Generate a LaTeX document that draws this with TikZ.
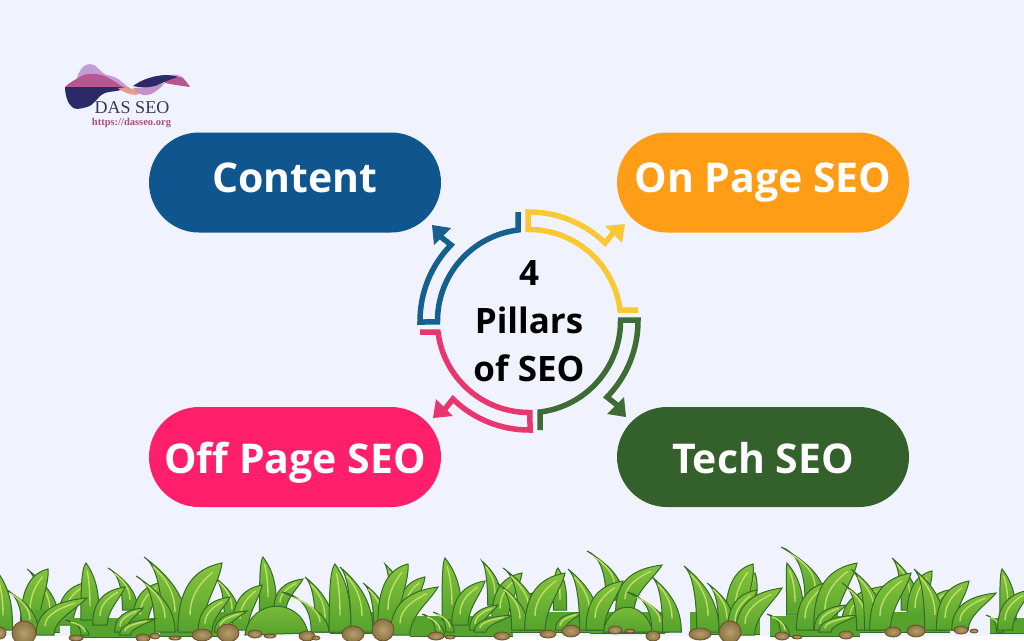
\documentclass[tikz,border=0pt]{standalone}
\usepackage{fontspec}
\setmainfont{Open Sans}
\newfontfamily\logofont{Liberation Serif}
\usetikzlibrary{shapes.misc}
\definecolor{pagebg}{HTML}{F0F3FE}
\definecolor{contentblue}{HTML}{0F568F}
\definecolor{onpageorange}{HTML}{FF9E16}
\definecolor{offpagepink}{HTML}{FF1F6B}
\definecolor{techgreen}{HTML}{33602B}
\definecolor{ringyellow}{HTML}{F9C935}
\definecolor{ringgreen}{HTML}{3F6B35}
\definecolor{ringpink}{HTML}{E8366F}
\definecolor{ringblue}{HTML}{15608F}
\definecolor{grassline}{HTML}{356A27}
\definecolor{grasstop}{HTML}{86C43C}
\definecolor{grassbottom}{HTML}{55A22C}
\definecolor{grasslight}{HTML}{BFDE68}
\definecolor{rockfill}{HTML}{8A7345}
\definecolor{rocklight}{HTML}{B8A06A}
\definecolor{rockline}{HTML}{6B4F2A}
\definecolor{logonavy}{HTML}{2B2A66}
\definecolor{logomauve}{HTML}{B8568F}
\definecolor{logolav}{HTML}{C49CD6}
\definecolor{logosalmon}{HTML}{E89A8A}
\definecolor{logotext}{HTML}{3A3550}
\definecolor{logolink}{HTML}{A8507F}
\tikzset{
  pillbox/.style={rounded rectangle,minimum width=292pt,minimum height=100pt,inner sep=0pt,
    text=white,font=\fontsize{41}{48}\selectfont\bfseries,text height=28pt,text depth=9pt},
  ringline/.style={line width=5.5pt},
  bladestyle/.style={draw=grassline,line width=1pt,top color=grasstop,bottom color=grassbottom},
  rockstyle/.style={draw=rockline,line width=.8pt,inner color=rocklight,outer color=rockfill}
}
\newcommand{\grassblade}[4]{%
  \pgfmathsetmacro{\bladedx}{#3-#1}%
  \pgfmathsetmacro{\bladeh}{#2-#4}%
  \pgfmathsetmacro{\bladew}{0.16*veclen(\bladedx,\bladeh)}%
  \draw[bladestyle] (#1-\bladew,#2) .. controls (#1-\bladew,#2-.65*\bladeh) and (#1+.4*\bladedx-.7*\bladew,#2-.92*\bladeh) .. (#3,#4)
    .. controls (#1+.5*\bladedx+1.1*\bladew,#2-.7*\bladeh) and (#1+\bladew,#2-.4*\bladeh) .. (#1+\bladew,#2) -- cycle;
  \draw[grasslight,line width=1.4pt,line cap=round] (#1,#2-.25*\bladeh) .. controls (#1,#2-.55*\bladeh) and (#1+.4*\bladedx,#2-.75*\bladeh) .. (#1+.7*\bladedx,#2-.86*\bladeh);
}
\begin{document}
\begin{tikzpicture}[x=1pt,y=-1pt]
  \useasboundingbox (0,0) rectangle (1024,640);
  \clip (0,0) rectangle (1024,640);
  \fill[pagebg] (0,0) rectangle (1024,640);
  \fill[white] (0,636) rectangle (1024,640);
  % logo
  \fill[logolav] (77,78) .. controls (80,68) and (85,64) .. (90,64) .. controls (97,64) and (99,72) .. (107,75)
    .. controls (118,77) and (122,82) .. (128,87) .. controls (132,90) and (136,90) .. (140,91) -- (118,90) -- cycle;
  \fill[logomauve] (65,87) .. controls (70,82) and (75,80) .. (78,78) .. controls (85,73) and (95,72) .. (107,77)
    .. controls (113,80) and (118,84) .. (125,88) -- cycle;
  \fill[logonavy] (65,87) -- (127,87) .. controls (120,92) and (110,91) .. (105,93) .. controls (97,96) and (95,105) .. (87,107)
    .. controls (80,109) and (75,110) .. (72,107) .. controls (68,104) and (65,95) .. (65,87) -- cycle;
  \fill[logosalmon] (118,88) -- (128,87) .. controls (132,90) and (138,91) .. (142,92) -- (136,95) .. controls (128,94) and (123,92) .. (118,88) -- cycle;
  \fill[logolav!85!logomauve] (133,88) .. controls (137,93) and (142,96) .. (147,95) .. controls (155,94) and (160,88) .. (165,83) -- (150,87) -- cycle;
  \fill[logomauve] (165,80) .. controls (170,76) and (178,74) .. (183,78) .. controls (186,81) and (188,84) .. (190,87) .. controls (182,86) and (175,85) .. (165,83) -- cycle;
  \fill[logolav] (168,76) .. controls (174,73) and (180,75) .. (184,78) .. controls (178,76) and (173,77) .. (168,76) -- cycle;
  \fill[logonavy] (133,86) .. controls (140,81) and (150,76) .. (165,75) .. controls (170,75) and (175,76) .. (178,77)
    .. controls (170,79) and (165,82) .. (160,84) .. controls (152,88) and (142,88) .. (133,86) -- cycle;
  \node[text=logotext,font=\logofont\fontsize{18}{20}\selectfont] (logoname) at (132,108) {DAS SEO};
  \node[text=logolink,font=\logofont\bfseries\fontsize{10.5}{13}\selectfont] (logolink) at (131.5,123) {https://dasseo.org};
  % pillars
  \node[pillbox,fill=contentblue] (content) at (295,182.5) {Content};
  \node[pillbox,fill=onpageorange] (onpage) at (763,182.5) {On Page SEO};
  \node[pillbox,fill=offpagepink,text height=34pt,text depth=2pt] (offpage) at (295,457) {Off Page SEO};
  \node[pillbox,fill=techgreen,text height=34pt,text depth=2pt] (tech) at (763,457) {Tech SEO};
  % ring
  \node[align=center,font=\fontsize{35}{48}\selectfont\bfseries] (title) at (529,321) {4\\Pillars\\of SEO};
  \foreach \ang/\col in {0/ringyellow,90/ringgreen,180/ringpink,270/ringblue}{
    \begin{scope}[shift={(529,321)},rotate=-\ang]
      \draw[ringline,\col] (109,-11) -- (91,-11) arc[start angle=-7,end angle=-90.6,radius=91.7] -- (-1,-109)
        arc[start angle=-90.5,end angle=-45.7,radius=109] -- (84,-88);
      \fill[\col] (76,-95) -- (96,-97) -- (93,-78) -- cycle;
    \end{scope}
  }
  % grass, back blades
  \foreach \bx/\by/\tx/\ty in {
    50/625/27/569, 30/625/48/569, 65/625/88/582, 130/610/108/568, 140/625/163/582,
    232/620/213/576, 268/610/263/557, 240/630/262/585, 280/610/303/579,
    400/620/385/564, 405/620/425/577, 495/605/482/561, 500/620/522/573, 520/620/537/592,
    560/610/558/568, 615/600/587/551, 625/610/662/565,
    750/610/755/573, 735/625/753/564, 815/600/781/547, 795/615/787/563, 850/625/886/586,
    910/610/892/558, 915/620/932/571, 930/625/949/590}{
    \grassblade{\bx}{\by}{\tx}{\ty}
  }
  % ground under the tufts
  \foreach \xa/\xb/\ya/\yb in {35/60/610/632, 70/155/618/637, 160/228/612/636, 330/400/612/633,
    410/513/616/636, 510/590/612/632, 590/665/612/633, 690/760/612/634, 770/860/616/636, 860/950/612/632, 990/1024/618/633}{
    \fill[grassbottom] (\xa,\ya) rectangle (\xb,\yb);
    \draw[grassline,line width=1pt] (\xa,\yb) -- (\xb,\yb);
  }
  % mounds
  \draw[bladestyle] (245,635) .. controls (250,598) and (300,596) .. (308,633) -- cycle;
  \draw[bladestyle] (603,632) .. controls (610,598) and (645,600) .. (653,632) -- cycle;
  % grass, front blades
  \foreach \bx/\by/\tx/\ty in {
    30/630/3/588, 3/630/-4/570, 90/620/86/563, 100/625/125/587, 85/635/65/620, 45/635/87/598,
    175/630/144/557, 165/632/136/576, 120/632/143/608, 125/635/155/619,
    190/632/222/563, 205/632/230/597, 220/632/247/611,
    325/632/305/577, 320/632/282/592, 340/632/335/564,
    362/632/340/567, 382/630/363/583, 388/625/408/564, 400/635/438/587,
    452/620/445/558, 460/625/485/581, 440/635/422/614, 450/632/433/612, 475/630/498/605, 480/632/513/615,
    530/630/503/568, 520/630/497/583, 535/630/565/573, 560/630/583/612,
    590/630/568/569, 595/630/623/581, 660/632/627/592, 672/632/652/577,
    708/632/684/566, 727/630/707/583, 735/632/757/590, 745/635/782/588,
    785/635/767/614, 805/630/829/582, 825/625/857/563, 820/630/846/605, 825/632/859/615,
    865/630/842/583, 875/630/851/569, 880/630/911/573, 935/630/914/569, 945/630/969/581,
    960/630/996/593, 1000/632/986/615, 1008/620/1002/569, 1005/630/1030/590}{
    \grassblade{\bx}{\by}{\tx}{\ty}
  }
  % stones
  \foreach \sx/\sy/\sa/\sb in {
    0/633/6/6, 24/633/12/12, 76/638/7/3, 143/638/7/4, 155/636/5/3, 175/638/6/2, 202/635/10/6, 228/633/11/9,
    255/634/7/4, 270/636/6/2, 307/636/8/5, 316/638/4/2, 353/634/11/8, 383/630/11/11, 436/636/8/4, 450/637/5/2,
    502/636/8/4, 548/634/8/4, 571/631/9/6, 615/630/7/4, 630/631/5/2, 653/636/7/5,
    700/634/11/6, 730/632/11/11, 782/636/7/4, 797/637/5/2, 846/635/7/4, 893/632/8/5, 916/631/9/6, 961/630/7/4, 974/631/4/2}{
    \draw[rockstyle] (\sx,\sy) ellipse [x radius=\sa,y radius=\sb];
  }
\end{tikzpicture}
\end{document}
